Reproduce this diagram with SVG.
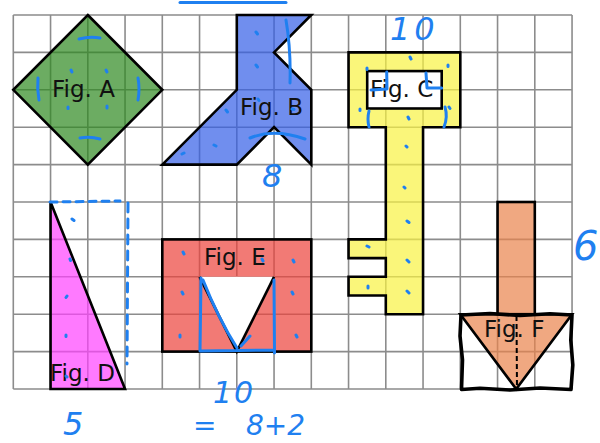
<svg xmlns="http://www.w3.org/2000/svg" width="600" height="443" viewBox="0 0 600 443">
<style>
.grid{stroke:#8c8c8c;stroke-width:1.6;fill:none}
.shape{stroke:#000;stroke-width:2.6;stroke-linejoin:miter}
.lbl{font-family:"DejaVu Sans",sans-serif;font-size:23px;fill:#111}
.ink{stroke:#1f80f0;stroke-width:3;fill:none;stroke-linecap:round;stroke-linejoin:round}
.dot{stroke:#1f80f0;stroke-width:3;stroke-linecap:round;fill:none}
.hand{font-family:"DejaVu Sans",sans-serif;font-style:italic;fill:#1f80f0}
</style>
<rect width="600" height="443" fill="#fff"/>
<g id="grid" class="grid">
<path d="M13.3,15V389M50.55,15V389M87.8,15V389M125.05,15V389M162.3,15V389M199.55,15V389M236.8,15V389M274.05,15V389M311.3,15V389M348.55,15V389M385.8,15V389M423.05,15V389M460.3,15V389M497.55,15V389M534.8,15V389M572.05,15V389"/>
<path d="M13.3,15H572.05M13.3,52.4H572.05M13.3,89.8H572.05M13.3,127.2H572.05M13.3,164.6H572.05M13.3,202H572.05M13.3,239.4H572.05M13.3,276.8H572.05M13.3,314.2H572.05M13.3,351.6H572.05M13.3,389H572.05"/>
</g>
<g id="figA">
<polygon class="shape" points="87.8,15 162.3,89.8 87.8,164.6 13.3,89.8" fill="#2d891f" fill-opacity="0.7"/>
<text class="lbl" x="52" y="97">Fig. A</text>
</g>
<g id="figB">
<polygon class="shape" points="236.8,15 311.3,15 274.05,52.4 311.3,89.8 311.3,164.6 274.05,127.2 236.8,164.6 162.3,164.6 236.8,89.8" fill="#335ee7" fill-opacity="0.7"/>
<text class="lbl" x="240" y="115">Fig. B</text>
</g>
<g id="figC">
<polygon class="shape" points="348.55,52.4 460.3,52.4 460.3,127.2 423.05,127.2 423.05,314.2 385.8,314.2 385.8,295.5 348.55,295.5 348.55,276.8 385.8,276.8 385.8,258.1 348.55,258.1 348.55,239.4 385.8,239.4 385.8,127.2 348.55,127.2" fill="#f8f241" fill-opacity="0.7"/>
<rect class="shape" x="367.2" y="71.1" width="74.5" height="37.4" fill="#fff"/>
<text class="lbl" x="370" y="97">Fig. C</text>
</g>
<g id="figD">
<polygon class="shape" points="50.55,202 50.55,389 125.05,389" fill="#ff41ff" fill-opacity="0.7"/>
<text class="lbl" x="50" y="381">Fig. D</text>
</g>
<g id="figE">
<rect class="shape" x="162.3" y="239.4" width="149" height="112.2" fill="#ec413b" fill-opacity="0.7"/>
<polygon points="199.55,276.8 274.05,276.8 236.8,351.6" fill="#fff"/>
<path d="M199.55,276.8L236.8,351.6L274.05,276.8" fill="none" stroke="#000" stroke-width="2.6"/>
<text class="lbl" x="204" y="265">Fig. E</text>
</g>
<g id="figF">
<rect class="shape" x="497.55" y="202" width="37.25" height="112.2" fill="#ea834c" fill-opacity="0.7"/>
<polygon class="shape" points="460.3,314.2 572.05,314.2 516.2,389" fill="#ea834c" fill-opacity="0.7"/>
<text class="lbl" x="484" y="337">Fig. F</text>
<path d="M461,315 L490,313.5 L520,315.5 L550,313.8 L572,315 L570.8,340 L572.8,365 L571,389.5 L540,388 L510,390 L480,388.3 L461.5,389.5 L462.5,360 L460,336 Z" fill="none" stroke="#000" stroke-width="3.6" stroke-linejoin="round"/>
<path d="M516.5,316 L517,389" fill="none" stroke="#000" stroke-width="2" stroke-dasharray="5,3"/>
</g>
<g id="annotations">
<path class="ink" d="M180,2.5 L286,2.5"/>
<path class="ink" d="M79,39 Q90,36 100,38 M80,138 Q90,136 100,139 M38,78 Q37,89 39,100 M138,78 Q140,89 138,100"/>
<path class="dot" d="M71,70l1,2M106,70l1,2M68,107l0,1.5M107,106l0,2"/>
<path class="ink" d="M286,20 Q291,50 290,83 M250,138 Q274,128 305,139"/>
<path class="dot" d="M256,32l1.5,2M256,65l1.5,2M226,110l1.5,2M214,145l2,1M182,154l2,-1M292,109l2,0.5M258,99l1,1.5"/>
<path class="ink" d="M371,90 L387,89 L386.7,72 M426,73 L427,88 L441.7,88 M369,111 Q367,119 369,127 M445,107 Q448,117 444,127"/>
<path class="dot" d="M410,57l1,2M448,65l0,1.5M367,68l0,1.5M360,109l0,1.5M449,107l1,1.5M408,117l1,2M406,146l1,1M404,187l1,1M407,221l2,1.5M407,260l2,2M407,291l2,2M367,246l2,1M368,286l0,2"/>
<path class="ink" d="M50,202 L120,201" stroke-dasharray="7,6"/>
<path class="ink" d="M128,203 L127,364" stroke-dasharray="9,7"/>
<path class="dot" d="M72,219l2,1.5M70,259l0.5,1.5M67,296l-1,1.5M66,335l0,1.5M66,376l1,1"/>
<path class="ink" d="M201,278 L200,351 L273,350 M274,280 L274.5,353 M203,280 Q218,318 237,348 M241,346 L250,336"/>
<path class="dot" d="M183,252l1,2M182,292l1,2M180,335l0,2M293,260l1,2M292,292l1,2M296,335l1,2M262,259l1,2"/>
<text class="hand" x="390" y="40" font-size="32" letter-spacing="4">10</text>
<text class="hand" x="262" y="187" font-size="32">8</text>
<text class="hand" x="63" y="435" font-size="32">5</text>
<text class="hand" x="213" y="403" font-size="30" letter-spacing="2">10</text>
<text class="hand" x="193" y="435" font-size="28">=<tspan x="246">8+2</tspan></text>
<text class="hand" x="573" y="260" font-size="40">6</text>
</g>
</svg>
